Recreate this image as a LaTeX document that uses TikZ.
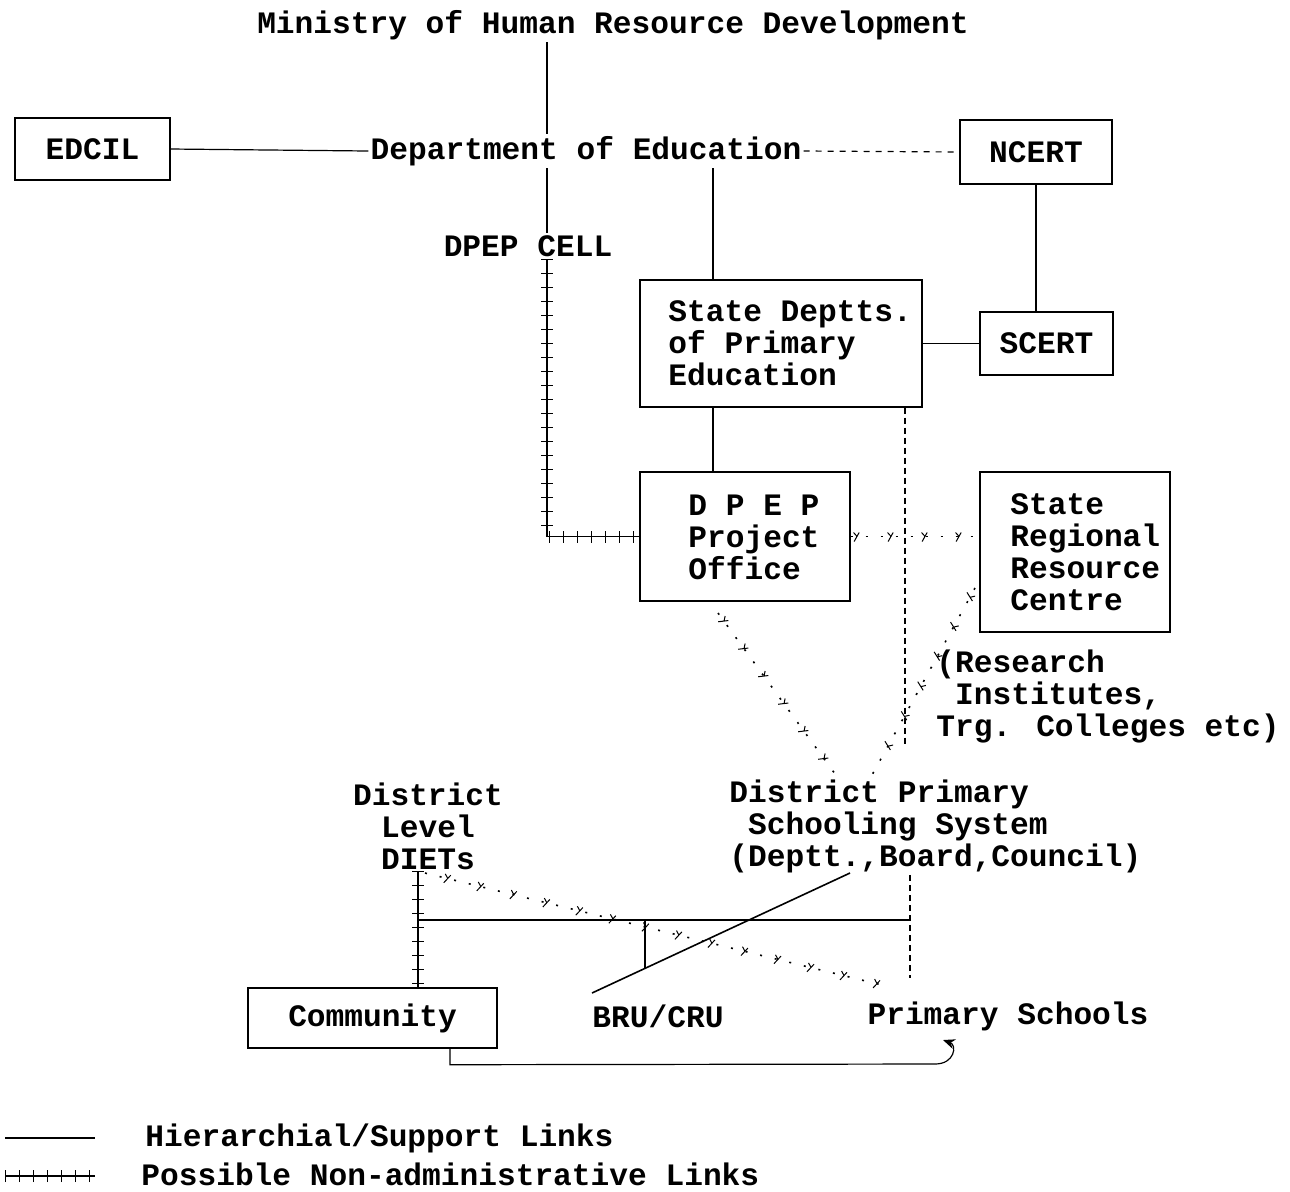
\documentclass[tikz,border=0pt]{standalone}
\usepackage{fontspec}
\setmainfont{Liberation Mono}
\usetikzlibrary{decorations.markings,arrows.meta,calc}
\begin{document}
\begin{tikzpicture}[x=0.5pt,y=-0.5pt,
  every node/.style={font=\fontsize{15.6}{16}\selectfont\bfseries},
  txt/.style={inner sep=1pt},
  box/.style={draw,line width=0.7pt,inner sep=0pt},
  link/.style={line width=0.6pt},
  hatched/.style={line width=0.6pt,postaction={decorate},
    decoration={markings,mark=between positions 0 and 1 step 7pt with {\draw[line width=0.45pt] (0pt,-3pt) -- (0pt,3pt);}}},
  dothatch/.style={line width=0.8pt,dash pattern=on 1pt off 6.5pt,postaction={decorate},
    decoration={markings,mark=between positions 0.05 and 1 step 17pt with {\draw[line width=0.5pt,solid] (-1.5pt,-2.5pt) -- (1pt,2pt) (0pt,0pt) -- (-1.8pt,2pt);}}}
]
\useasboundingbox (0,0) rectangle (1290,1191);

% nodes
\node[txt] (ministry) at (613,25) {Ministry of Human Resource Development};
\node[txt] (dept) at (586,151) {Department of Education};
\node[box,minimum width=77.5pt,minimum height=31pt] (edcil) at (92.5,149) {EDCIL};
\node[box,minimum width=76pt,minimum height=32pt] (ncert) at (1036,152) {NCERT};
\node[txt] (cell) at (528,246) {DPEP CELL};
\node[box,minimum width=141pt,minimum height=63.5pt] (state) at (781,343.5) {};
\node[txt,anchor=west,align=left] (statetxt) at (666,343) {State Deptts.\\of Primary\\Education};
\node[box,minimum width=66.5pt,minimum height=31.5pt] (scert) at (1046.5,343.5) {SCERT};
\node[box,minimum width=105pt,minimum height=64.5pt] (office) at (745,536.5) {};
\node[txt,anchor=west,align=left] (officetxt) at (686,537) {D P E P\\Project\\Office};
\node[box,minimum width=95pt,minimum height=80pt] (srrc) at (1075,552) {};
\node[txt,anchor=west,align=left] (srrctxt) at (1008,552) {State\\Regional\\Resource\\Centre};
\node[txt,anchor=west,align=left] (research) at (934,696) {(Research\\\hphantom{(}Institutes,\\Trg. Colleges etc)};
\node[txt,anchor=west,align=left] (dps) at (727,826) {District Primary\\\hphantom{S}Schooling System\\(Deptt.,Board,Council)};
\node[txt,align=center] (diets) at (428,826) {District\\Level\\DIETs};
\node[box,minimum width=124.5pt,minimum height=30pt] (community) at (372.5,1018) {Community};
\node[txt] (bru) at (658,1016) {BRU/CRU};
\node[txt] (primary) at (1008,1016) {Primary Schools};
\node[txt,anchor=west] (leg1) at (143,1138) {Hierarchial/Support Links};
\node[txt,anchor=west] (leg2) at (139,1174) {Possible Non-administrative Links};

% helper coordinates
\coordinate (mx) at (547,0);
\coordinate (sx) at (713,0);
\coordinate (rx) at (905,745);
\coordinate (dx) at (418,0);
\coordinate (hl) at (418,920);
\coordinate (hr) at (910,920);
\coordinate (px2) at (910,978);
\coordinate (bx) at (645,968);
\coordinate (o1) at (718,613);
\coordinate (d1) at (838,778);
\coordinate (s1) at (975,588);
\coordinate (d2) at (872,775);
\coordinate (g1) at (850,873);
\coordinate (g2) at (592,993);
\coordinate (t1) at (425,873);
\coordinate (t2) at (882,985);
\coordinate (cx) at (450,0);
\coordinate (c2) at (935,1064);
\coordinate (c3) at (943,1040);
\coordinate (l1a) at (5,1138);
\coordinate (l1b) at (95,1138);
\coordinate (l2a) at (5,1176);
\coordinate (l2b) at (95,1176);

% connectors
\draw[link] (ministry.south -| mx) -- (dept.north -| mx);
\draw[link] (dept.south -| mx) -- (cell.north -| mx);
\draw[hatched] (cell.south -| mx) |- (office.west);
\draw[link] (edcil.east) -- (dept.west);
\draw[link,dashed] (dept.east) -- (ncert.west);
\draw[link] (dept.south -| sx) -- (state.north -| sx);
\draw[link] (state.east) -- (scert.west);
\draw[link] (ncert.south) -- (ncert.south |- scert.north);
\draw[link] (state.south -| sx) -- (office.north -| sx);
\draw[link,densely dashed] (state.south -| rx) -- (rx);
\draw[dothatch] (office.east) -- (office.east -| srrc.west);
\draw[dothatch] (o1) -- (d1);
\draw[dothatch] (s1) -- (d2);
\draw[hatched] (diets.south -| dx) -- (community.north -| dx);
\draw[link] (hl) -- (hr);
\draw[link,densely dashed] (dps.south -| hr) -- (px2);
\draw[link] (bx |- hl) -- (bx);
\draw[line width=0.8pt] (g1) -- (g2);
\draw[dothatch] (t1) -- (t2);
\draw[link,-{Stealth[length=6pt,width=5pt]}] (community.south -| cx) -- ++(0,16) -- (c2) .. controls (955,1064) and (957,1045) .. (c3);

% legend
\draw[link] (l1a) -- (l1b);
\draw[hatched] (l2a) -- (l2b);
\end{tikzpicture}
\end{document}
